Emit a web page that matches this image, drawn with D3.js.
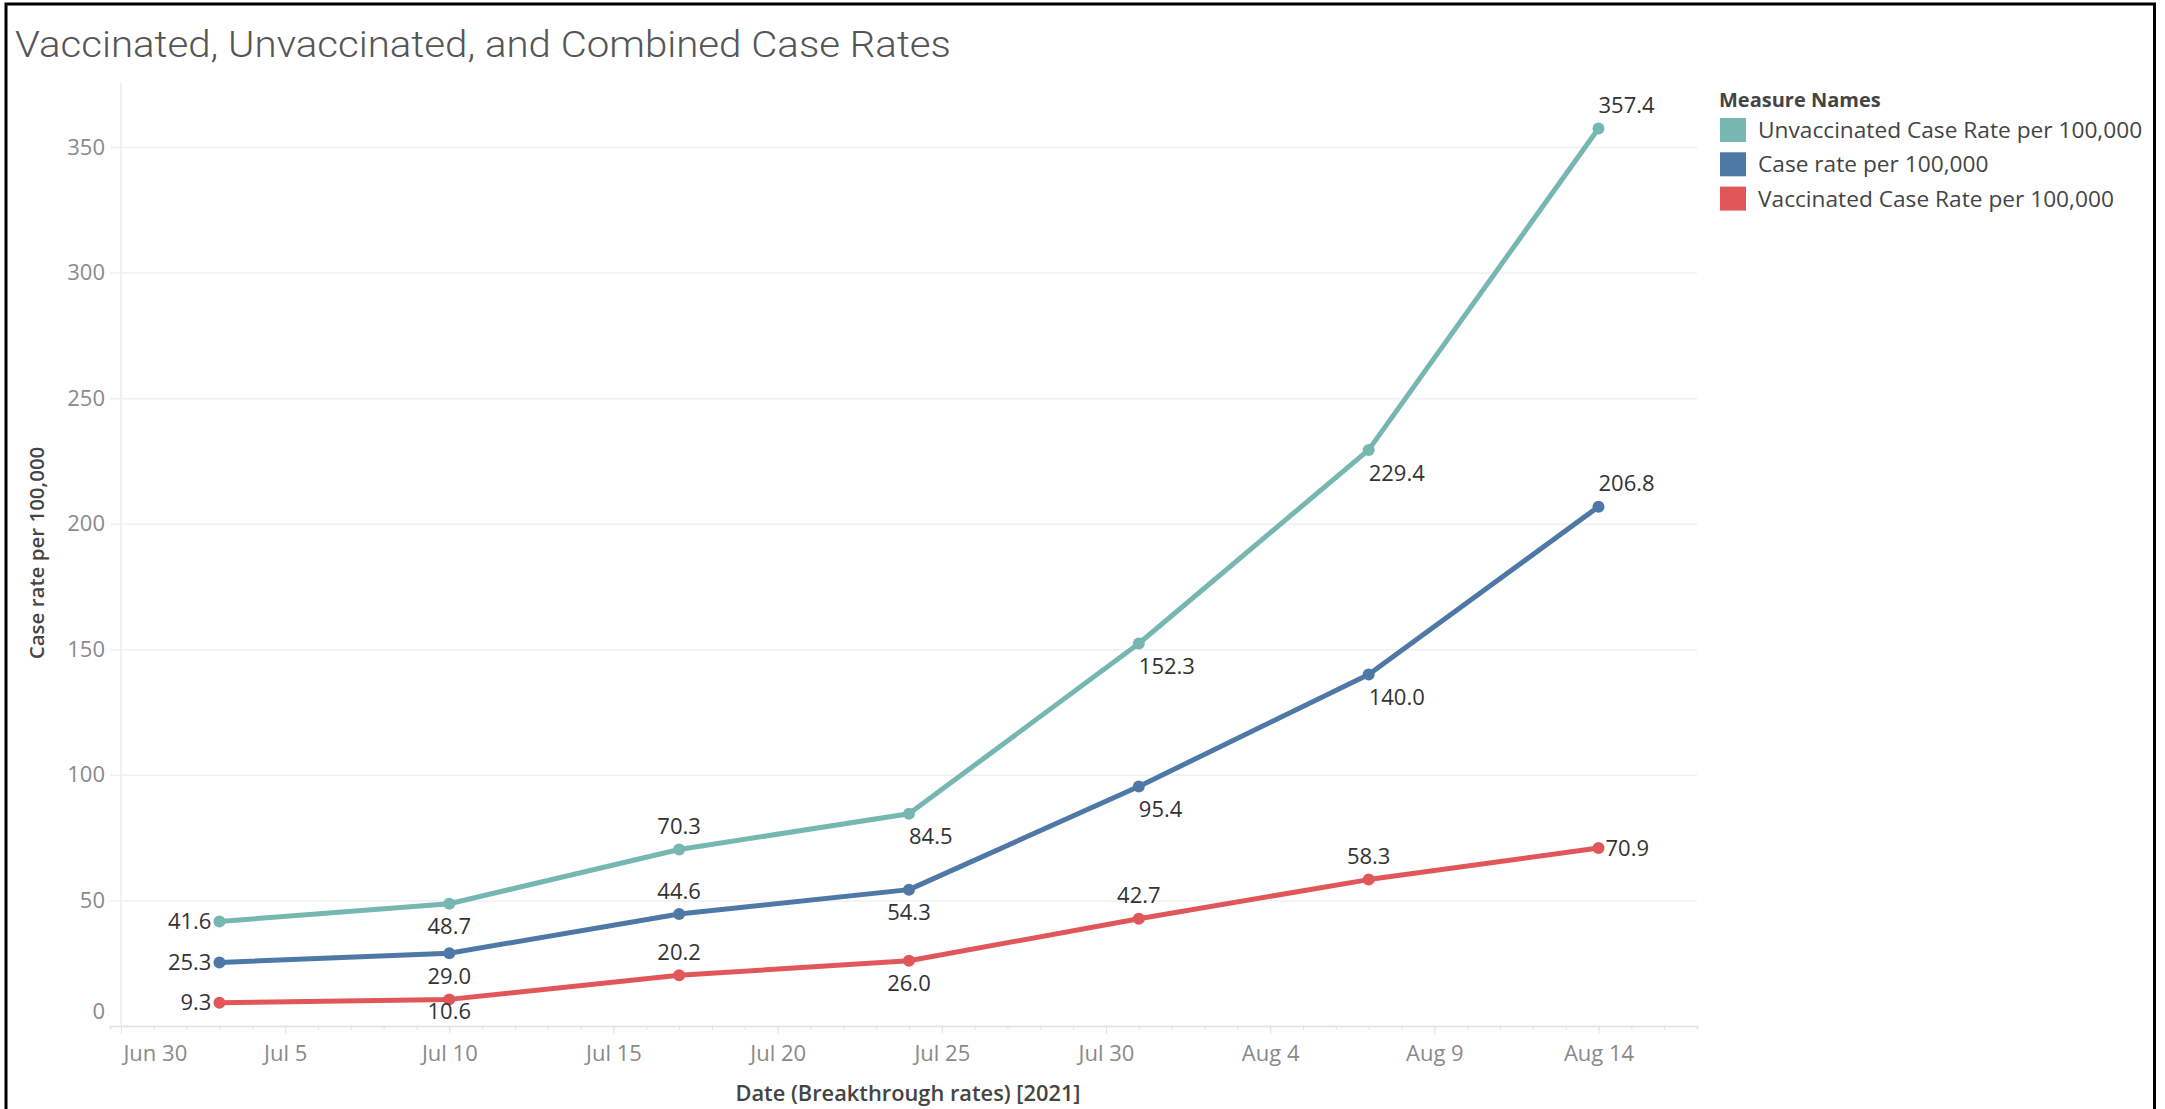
<!DOCTYPE html>
<html>
<head>
<meta charset="utf-8">
<script src="https://cdn.jsdelivr.net/npm/d3@7"></script>
<style>
  body { margin: 0; background: #fff; }
  text { font-family: "Open Sans", sans-serif; }
</style>
</head>
<body>
<div id="chart-area"></div>
<script>
// weekly dates and the three measures
var dates = ["2021-07-03", "2021-07-10", "2021-07-17", "2021-07-24", "2021-07-31", "2021-08-07", "2021-08-14"];
var unvaccinated = [41.6, 48.7, 70.3, 84.5, 152.3, 229.4, 357.4];
var combined = [25.3, 29.0, 44.6, 54.3, 95.4, 140.0, 206.8];
var vaccinated = [9.3, 10.6, 20.2, 26.0, 42.7, 58.3, 70.9];
var seriesNames = ["Unvaccinated Case Rate per 100,000", "Case rate per 100,000", "Vaccinated Case Rate per 100,000"];
var seriesColors = ["#76b7b2", "#4e79a7", "#e15759"];
var yTicks = [0, 50, 100, 150, 200, 250, 300, 350];
var xTickDates = ["2021-06-30", "2021-07-05", "2021-07-10", "2021-07-15", "2021-07-20", "2021-07-25", "2021-07-30", "2021-08-04", "2021-08-09", "2021-08-14"];

// where each value label sits relative to its point
var labelPlace = [
    ["L", "B", "T", "BR", "BR", "BR", "TR"],
    ["L", "B", "T", "B", "BR", "BR", "TR"],
    ["L", "b", "T", "B", "T", "T", "R"]
];

var parse = d3.timeParse("%Y-%m-%d");
var fmtTick = d3.timeFormat("%b %-d");
var W = 2165, H = 1109;
var plotLeft = 110, plotRight = 1697, plotTop = 83, plotBottom = 1026;

var svg = d3.select("#chart-area").append("svg")
    .attr("width", W)
    .attr("height", H);

// frame
svg.append("path")
    .attr("d", "M6,1109 V4 H2154.5 V1109")
    .attr("fill", "none")
    .attr("stroke", "#000")
    .attr("stroke-width", 3);

svg.append("text")
    .attr("x", 15)
    .attr("y", 57)
    .attr("textLength", 936)
    .attr("lengthAdjust", "spacingAndGlyphs")
    .style("font-family", "Roboto, sans-serif")
    .style("font-weight", 300)
    .style("font-size", "37px")
    .attr("fill", "#555")
    .text("Vaccinated, Unvaccinated, and Combined Case Rates");

var x = d3.scaleTime()
    .domain([new Date(2021, 5, 29, 16), new Date(2021, 7, 17)])
    .range([plotLeft, plotRight]);
var y = d3.scaleLinear()
    .domain([0, 375.5])
    .range([plotBottom, plotTop]);

// gridlines + y labels
var yAxis = svg.append("g")
    .attr("transform", "translate(" + plotLeft + ",0)")
    .call(d3.axisLeft(y).tickValues(yTicks).tickSize(-(plotRight - plotLeft)).tickPadding(5));
yAxis.select(".domain").remove();
yAxis.selectAll(".tick line").attr("stroke", "#f0f0f0").attr("stroke-width", 1.5);
yAxis.selectAll(".tick text")
    .attr("fill", "#8a8a8a")
    .style("font-size", "22px")
    .attr("dy", function(d){ return d === 0 ? "-0.35em" : "0.32em"; });

// vertical pane line
svg.append("line")
    .attr("x1", x(parse("2021-06-30"))).attr("x2", x(parse("2021-06-30")))
    .attr("y1", plotTop).attr("y2", plotBottom)
    .attr("stroke", "#ececec").attr("stroke-width", 1.5);

// x axis: minor daily ticks, then labelled ticks
var minor = svg.append("g")
    .attr("transform", "translate(0," + plotBottom + ")")
    .call(d3.axisBottom(x).tickValues(d3.timeDay.range(parse("2021-06-30"), new Date(2021, 7, 17))).tickSize(4).tickFormat(""));
minor.select(".domain").attr("stroke", "#e3e3e3").attr("stroke-width", 1.5);
minor.selectAll(".tick line").attr("stroke", "#e3e3e3");

var xAxis = svg.append("g")
    .attr("transform", "translate(0," + plotBottom + ")")
    .call(d3.axisBottom(x).tickValues(xTickDates.map(parse)).tickSize(8).tickPadding(11).tickFormat(fmtTick));
xAxis.select(".domain").remove();
xAxis.selectAll(".tick line").attr("stroke", "#e3e3e3");
xAxis.selectAll(".tick text")
    .attr("fill", "#8a8a8a")
    .style("font-size", "22px")
    .attr("text-anchor", function(d, i){ return i === 0 ? "start" : "middle"; })
    .attr("x", function(d, i){ return i === 0 ? 2 : 0; });

// axis titles
svg.append("text")
    .attr("transform", "translate(37,553) rotate(-90)")
    .attr("text-anchor", "middle")
    .attr("dy", "0.35em")
    .attr("fill", "#444")
    .style("font-size", "20.5px")
    .style("font-weight", 600)
    .text("Case rate per 100,000");

svg.append("text")
    .attr("x", 908)
    .attr("y", 1093)
    .attr("text-anchor", "middle")
    .attr("dy", "0.35em")
    .attr("fill", "#444")
    .style("font-size", "21.8px")
    .style("font-weight", 600)
    .text("Date (Breakthrough rates) [2021]");

// lines, points, labels
var allSeries = [unvaccinated, combined, vaccinated];
var line = d3.line()
    .x(function(d, i){ return x(parse(dates[i])); })
    .y(function(d){ return y(d); });

allSeries.forEach(function(values, s){
    var g = svg.append("g");
    g.append("path")
        .datum(values)
        .attr("d", line)
        .attr("fill", "none")
        .attr("stroke", seriesColors[s])
        .attr("stroke-width", 5)
        .attr("stroke-linejoin", "round");
    g.selectAll("circle")
        .data(values)
        .enter()
        .append("circle")
            .attr("cx", function(d, i){ return x(parse(dates[i])); })
            .attr("cy", function(d){ return y(d); })
            .attr("r", 6)
            .attr("fill", seriesColors[s]);
    g.selectAll("text")
        .data(values)
        .enter()
        .append("text")
            .attr("fill", "#333")
            .style("font-size", "22px")
            .attr("dy", "0.35em")
            .attr("x", function(d, i){
                var p = labelPlace[s][i], px = x(parse(dates[i]));
                if (p === "L") return px - 8;
                if (p === "R") return px + 7;
                return px;
            })
            .attr("y", function(d, i){
                var p = labelPlace[s][i], py = y(d);
                if (p === "T" || p === "TR") return py - 23;
                if (p === "B" || p === "BR") return py + 23;
                if (p === "b") return py + 12;
                return py;
            })
            .attr("text-anchor", function(d, i){
                var p = labelPlace[s][i];
                if (p === "L") return "end";
                if (p === "R" || p === "BR" || p === "TR") return "start";
                return "middle";
            })
            .text(function(d){ return d3.format(".1f")(d); });
});

// legend
var legend = svg.append("g").attr("transform", "translate(1720,0)");
legend.append("text")
    .attr("x", -1).attr("y", 100)
    .attr("dy", "0.35em")
    .attr("fill", "#444")
    .style("font-size", "20px")
    .style("font-weight", 700)
    .text("Measure Names");
var rows = legend.selectAll(".row")
    .data(seriesNames)
    .enter()
    .append("g")
        .attr("transform", function(d, i){ return "translate(0," + (118 + i * 34.3) + ")"; });
rows.append("rect")
    .attr("width", 26).attr("height", 24)
    .attr("fill", function(d, i){ return seriesColors[i]; });
rows.append("text")
    .attr("x", 38).attr("y", 12)
    .attr("dy", "0.35em")
    .attr("fill", "#444")
    .style("font-size", "22.7px")
    .text(function(d){ return d; });
</script>
</body>
</html>
